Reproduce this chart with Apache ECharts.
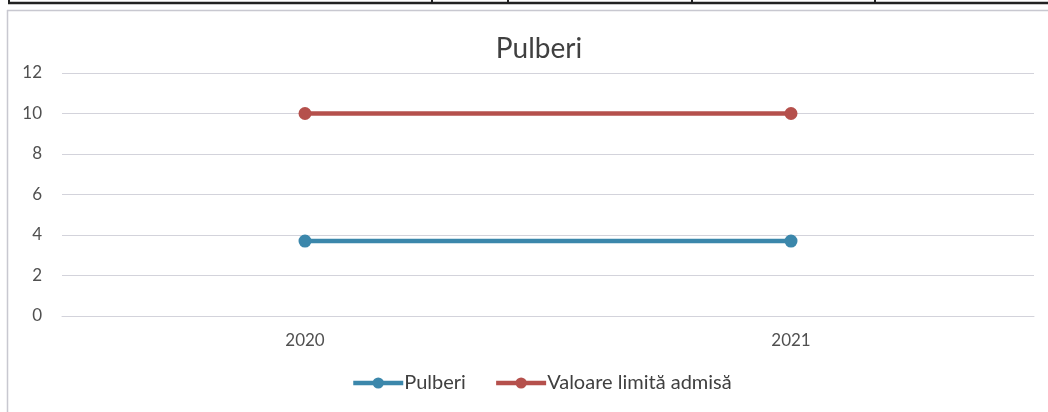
<!DOCTYPE html>
<html>
<head>
<meta charset="utf-8">
<script src="https://cdn.jsdelivr.net/npm/echarts@6/dist/echarts.min.js"></script>
<style>
  html, body { margin: 0; padding: 0; background: #fff; }
  #main { width: 1048px; height: 412px; }
</style>
</head>
<body>
<div id="main"></div>
<script>
var years = ["2020", "2021"];
var pulberi = [3.7, 3.7];
var valoareLimita = [10, 10];
var yTicks = [0, 2, 4, 6, 8, 10, 12];

var font = "Lato, 'Open Sans', sans-serif";
var myChart = echarts.init(document.getElementById("main"));
var option = {
  backgroundColor: "#fff",
  animation: false,
  title: {
    text: "Pulberi",
    left: 534,
    top: 30,
    textAlign: "center",
    textStyle: { fontFamily: font, fontSize: 28, fontWeight: "normal", color: "#404040" }
  },
  legend: {
    bottom: 14,
    left: 346,
    itemWidth: 50,
    itemHeight: 14,
    itemGap: 28,
    lineStyle: { width: 4.5 },
    textStyle: { fontFamily: font, fontSize: 20, color: "#404040", padding: [0, 0, 0, -4] },
    data: ["Pulberi", "Valoare limită admisă"]
  },
  grid: { left: 62, right: 14, top: 73, bottom: 96 },
  xAxis: {
    type: "category",
    data: years,
    boundaryGap: true,
    axisLine: { show: true, lineStyle: { color: "#d3d3db", width: 1 } },
    axisTick: { show: false },
    axisLabel: { fontFamily: font, fontSize: 17, color: "#505050", margin: 16 }
  },
  yAxis: {
    type: "value",
    min: yTicks[0],
    max: yTicks[yTicks.length - 1],
    interval: 2,
    axisLine: { show: false },
    axisTick: { show: false },
    axisLabel: { fontFamily: font, fontSize: 17, color: "#505050", margin: 20 },
    splitLine: { lineStyle: { color: "#d3d3db", width: 1 } }
  },
  series: [
    {
      name: "Pulberi",
      type: "line",
      data: pulberi,
      symbol: "circle",
      symbolSize: 13,
      lineStyle: { width: 4.5, color: "#3b87ab" },
      itemStyle: { color: "#3b87ab" }
    },
    {
      name: "Valoare limită admisă",
      type: "line",
      data: valoareLimita,
      symbol: "circle",
      symbolSize: 13,
      lineStyle: { width: 4.5, color: "#b5504c" },
      itemStyle: { color: "#b5504c" }
    }
  ],
  graphic: [
    // table edge above the chart (scan)
    { type: "line", shape: { x1: 8, y1: 3, x2: 1048, y2: 3 }, style: { stroke: "#222", lineWidth: 2.5 } },
    { type: "line", shape: { x1: 9, y1: 0, x2: 9, y2: 4 }, style: { stroke: "#222", lineWidth: 2 } },
    { type: "line", shape: { x1: 432, y1: 0, x2: 432, y2: 4 }, style: { stroke: "#222", lineWidth: 2 } },
    { type: "line", shape: { x1: 508, y1: 0, x2: 508, y2: 4 }, style: { stroke: "#222", lineWidth: 2 } },
    { type: "line", shape: { x1: 692, y1: 0, x2: 692, y2: 4 }, style: { stroke: "#222", lineWidth: 2 } },
    { type: "line", shape: { x1: 875, y1: 0, x2: 875, y2: 4 }, style: { stroke: "#222", lineWidth: 2 } },
    // chart frame
    { type: "line", shape: { x1: 7, y1: 10.5, x2: 1048, y2: 10.5 }, style: { stroke: "#c8c8d0", lineWidth: 1.5 } },
    { type: "line", shape: { x1: 7.5, y1: 10, x2: 7.5, y2: 412 }, style: { stroke: "#c8c8d0", lineWidth: 1.5 } }
  ]
};
myChart.setOption(option);
</script>
</body>
</html>
